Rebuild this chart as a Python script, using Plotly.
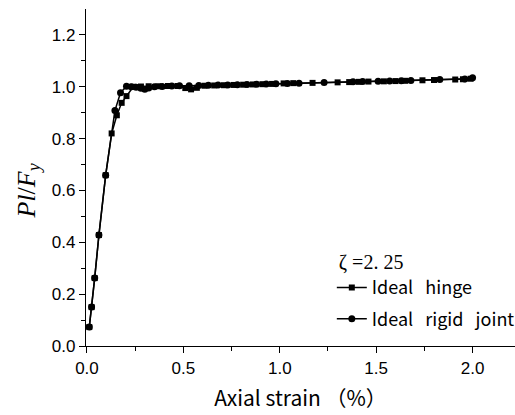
import plotly.graph_objects as go

# Ideal rigid joint (circles)
rigid_x = [0.012, 0.024, 0.040, 0.062, 0.097, 0.145, 0.174, 0.205, 0.23, 0.255, 0.28, 0.30,
           0.32, 0.35, 0.39, 0.44, 0.48, 0.53, 0.58, 0.63, 0.68, 0.73, 0.78, 0.83, 0.88,
           0.93, 0.98, 1.04, 1.10, 1.23, 1.38, 1.43, 1.51, 1.57, 1.63, 1.68, 1.83, 1.96, 2.0]
rigid_y = [0.073, 0.150, 0.262, 0.428, 0.659, 0.908, 0.977, 1.002, 1.000, 0.998, 0.994, 0.990,
           0.995, 1.000, 1.001, 1.003, 1.004, 1.004, 1.005, 1.006, 1.007, 1.007, 1.008, 1.009,
           1.010, 1.011, 1.012, 1.013, 1.014, 1.016, 1.019, 1.020, 1.021, 1.022, 1.023, 1.024,
           1.028, 1.030, 1.035]

# Ideal hinge (squares)
hinge_x = [0.012, 0.024, 0.040, 0.062, 0.097, 0.128, 0.155, 0.18, 0.205, 0.24, 0.28, 0.32,
           0.37, 0.42, 0.47, 0.51, 0.54, 0.57, 0.61, 0.66, 0.71, 0.76, 0.81, 0.86, 0.91, 0.96,
           1.02, 1.07, 1.17, 1.30, 1.36, 1.41, 1.46, 1.54, 1.60, 1.65, 1.74, 1.80, 1.91, 1.95, 1.99]
hinge_y = [0.073, 0.150, 0.262, 0.428, 0.659, 0.820, 0.890, 0.938, 0.964, 1.000, 1.001, 1.002,
           1.002, 1.003, 1.003, 0.995, 0.990, 0.996, 1.004, 1.005, 1.006, 1.007, 1.008, 1.009,
           1.010, 1.011, 1.013, 1.014, 1.015, 1.017, 1.018, 1.019, 1.020, 1.021, 1.022, 1.023,
           1.025, 1.026, 1.028, 1.029, 1.031]

legend_title = "\u00a0ζ =2. 25"
names = ["Ideal\u00a0\u00a0\u00a0hinge", "Ideal\u00a0\u00a0\u00a0rigid\u00a0\u00a0\u00a0joint"]
x_title = "Axial strain\u00a0（%）"
y_title = "<i>Pl</i>/<i>F</i><sub><i>y</i></sub>"

fig = go.Figure()
fig.add_trace(go.Scatter(x=hinge_x, y=hinge_y, mode="lines+markers", name=names[0],
                         legendgroup="a",
                         line=dict(color="black", width=1.5),
                         marker=dict(symbol="square", size=6, color="black")))
fig.add_trace(go.Scatter(x=rigid_x, y=rigid_y, mode="lines+markers", name=names[1],
                         legendgroup="b",
                         line=dict(color="black", width=1.5),
                         marker=dict(symbol="circle", size=7, color="black")))

fig.add_annotation(text=y_title, xref="paper", yref="y", x=-0.135, y=0.60,
                   xanchor="center", yanchor="middle", textangle=-90, showarrow=False,
                   font=dict(family="Liberation Serif", size=26, color="black"))

fig.update_layout(
    width=515, height=415,
    margin=dict(l=86, r=0, t=9, b=69, autoexpand=False),
    plot_bgcolor="white", paper_bgcolor="white",
    showlegend=True,
    legend=dict(x=0.573, y=0.305, xanchor="left", yanchor="top",
                bgcolor="rgba(0,0,0,0)", tracegroupgap=5,
                font=dict(family="Noto Sans CJK SC", size=18, color="black"),
                title=dict(text=legend_title,
                           font=dict(family="Liberation Serif", size=20, color="black"))),
    xaxis=dict(range=[-0.005, 2.22], tickvals=[0, 0.5, 1.0, 1.5, 2.0],
               ticktext=["0.0", "0.5", "1.0", "1.5", "2.0"],
               showline=True, linecolor="black", linewidth=1.2, mirror=False,
               ticks="outside", ticklen=6, tickcolor="black", showgrid=False, zeroline=False,
               minor=dict(tickvals=[0.25, 0.75, 1.25, 1.75], ticks="outside", ticklen=4,
                          tickcolor="black"),
               tickfont=dict(family="Liberation Sans", size=17, color="black"),
               title=dict(text=x_title,
                          font=dict(family="Noto Sans CJK SC", size=21, color="black"),
                          standoff=14)),
    yaxis=dict(range=[0, 1.3], tickvals=[0, 0.2, 0.4, 0.6, 0.8, 1.0, 1.2],
               ticktext=["0.0", "0.2", "0.4", "0.6", "0.8", "1.0", "1.2"],
               showline=True, linecolor="black", linewidth=1.2, mirror=False,
               ticks="outside", ticklen=6, tickcolor="black", showgrid=False, zeroline=False,
               minor=dict(tickvals=[0.1, 0.3, 0.5, 0.7, 0.9, 1.1], ticks="outside", ticklen=4,
                          tickcolor="black"),
               tickfont=dict(family="Liberation Sans", size=17, color="black")),
)

fig.write_html("out.html")
